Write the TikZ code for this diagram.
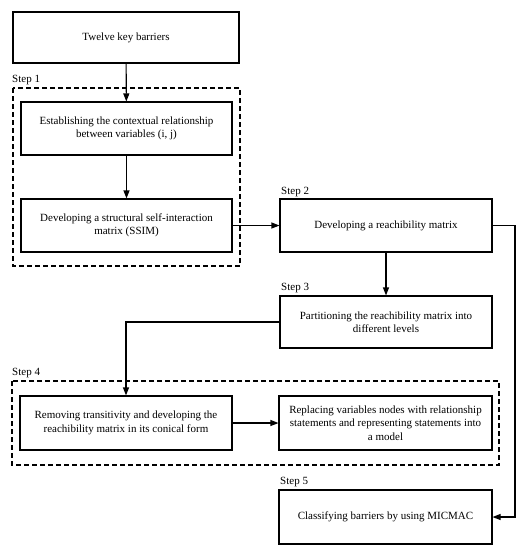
\documentclass[tikz,border=0pt]{standalone}
\usepackage{fontspec}
\setmainfont{Liberation Serif}
\usetikzlibrary{arrows.meta}
\begin{document}
\begin{tikzpicture}[x=1pt,y=-1pt,
  box/.style={draw,line width=1.1pt,minimum width=211pt,minimum height=53pt,align=center,font=\fontsize{11}{13.5}\selectfont,inner sep=2pt},
  grp/.style={draw,line width=1.1pt,dash pattern=on 5pt off 3pt},
  steplbl/.style={anchor=west,font=\fontsize{11}{13}\selectfont,inner sep=0pt},
  arr/.style={line width=1.1pt,-{Triangle[length=8pt,width=6pt]}},
  ln/.style={line width=1.1pt}]
\useasboundingbox (0,0) rectangle (530,550);
\node[box,minimum width=226pt,minimum height=51pt] (b0) at (126,37.5) {Twelve key barriers};
\node[box] (b1) at (126.5,128.5) {Establishing the contextual relationship\\between variables (i, j)};
\node[box] (b2) at (126.5,225.5) {Developing a structural self-interaction\\matrix (SSIM)};
\node[box,minimum width=212pt] (s2) at (386,225.5) {Developing a reachibility matrix};
\node[box,minimum width=212pt,minimum height=52pt] (s3) at (386,322) {Partitioning the reachibility matrix into\\different levels};
\node[box,minimum width=212pt,minimum height=54pt] (b4a) at (126,423) {Removing transitivity and developing the\\reachibility matrix in its conical form};
\node[box,minimum width=213pt,minimum height=54pt] (b4b) at (385.5,423) {Replacing variables nodes with relationship\\statements and representing statements into\\a model};
\node[box,minimum width=213pt,minimum height=54pt] (s5) at (385.5,517) {Classifying barriers by using MICMAC};
\draw[grp] (13,88) rectangle (240,266);
\draw[grp] (12,381) rectangle (499,465);
\node[steplbl] (l1) at (12,80) {Step 1};
\node[steplbl] (l2) at (281,192) {Step 2};
\node[steplbl] (l3) at (281,288) {Step 3};
\node[steplbl] (l4) at (12,373) {Step 4};
\node[steplbl] (l5) at (280,482) {Step 5};
\coordinate (rc1) at (515,225.5);
\coordinate (rc2) at (515,517);
\coordinate (lc) at (126,322);
\draw[arr] (b0) -- (b1);
\draw[arr] (b1) -- (b2);
\draw[arr] (b2) -- (s2);
\draw[arr] (s2) -- (s3);
\draw[arr] (s3.west) -- (lc) -- (b4a.north);
\draw[arr] (b4a) -- (b4b);
\draw[arr] (s2.east) -- (rc1) -- (rc2) -- (s5.east);
\end{tikzpicture}
\end{document}
